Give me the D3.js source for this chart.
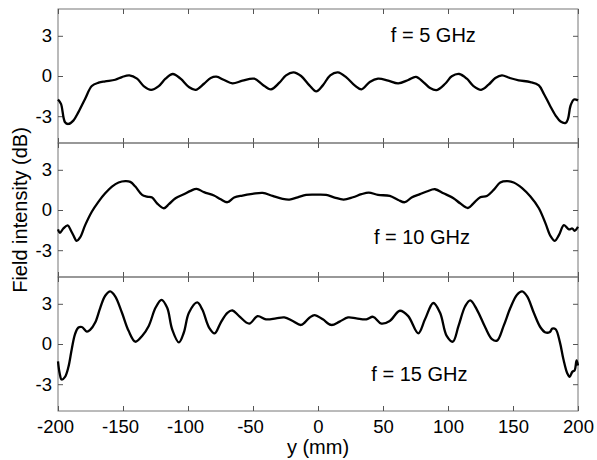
<!DOCTYPE html>
<html>
<head>
<meta charset="utf-8">
<script src="https://cdn.jsdelivr.net/npm/d3@7"></script>
<style>
  body { margin: 0; background: #fff; }
  text { font-family: "Liberation Sans", Arial, sans-serif; fill: #000; }
</style>
</head>
<body>
<div id="chart"></div>
<script>
// tick values / labels
const xTicks = [-200, -150, -100, -50, 0, 50, 100, 150, 200];
const yTicks = [-3, 0, 3];
const freqLabels = ["f = 5 GHz", "f = 10 GHz", "f = 15 GHz"];

// f = 5 GHz : position (mm) and field intensity (dB)
const y5 = [-200, -197.7, -194.6, -192, -188.2, -184.3, -179.1, -174, -168.8, -163.7, -156, -150.8, -145.1, -139.2, -134.1, -128.4, -122.5, -117.3, -111.7, -105.7, -99.3, -94.1, -87.7, -82.5, -78.2, -72.2, -65.8, -58.1, -49.1, -42.6, -36.2, -29.7, -24.6, -18.9, -13, -6.6, -1.4, 3.7, 9.4, 15.3, 21.8, 28.2, 33.4, 39.8, 46.2, 54, 61.7, 69.4, 75.3, 81, 86.2, 91.3, 97.8, 102.9, 108.6, 114.5, 119.6, 125.5, 131.2, 136.4, 141.5, 147.5, 154.4, 163.4, 169.9, 173.7, 178.4, 182.8, 186.6, 190.5, 192.3, 194.3, 196.9, 200];
const e5 = [-1.75, -2.08, -3.45, -3.58, -3.33, -2.7, -1.7, -0.75, -0.5, -0.4, -0.28, -0.08, 0.05, -0.2, -0.75, -1.03, -0.75, -0.2, 0.15, -0.2, -0.82, -1.03, -0.58, -0.15, -0.05, -0.3, -0.55, -0.35, -0.2, -0.65, -1.0, -0.5, 0.05, 0.27, 0, -0.7, -1.15, -0.7, 0.05, 0.27, -0.1, -0.7, -1.0, -0.45, -0.2, -0.35, -0.55, -0.3, -0.07, -0.45, -0.9, -1.05, -0.58, -0.02, 0.15, -0.2, -0.75, -1.03, -0.65, -0.15, 0.05, -0.15, -0.32, -0.45, -0.7, -1.32, -2.2, -2.95, -3.4, -3.5, -3.2, -2.2, -1.75, -1.82];

// f = 10 GHz
const y10 = [-200, -198.5, -195.9, -192.5, -190, -188.2, -185.6, -183, -179.1, -174, -168.8, -163.7, -158.5, -153.4, -148.2, -144.4, -140.5, -135.3, -131.5, -127.6, -123.8, -118.6, -114.7, -109.6, -103.2, -98, -93.4, -87.7, -80, -74.8, -69.7, -64.5, -58.1, -50.4, -42.6, -34.9, -27.2, -22, -15.6, -9.1, -1.4, 6.3, 12.8, 19.7, 26.9, 33.4, 39, 46.2, 55.2, 61.7, 66.8, 72, 78.4, 83.6, 90, 96.5, 104.2, 109.3, 115.3, 119.6, 124.8, 129.9, 135.1, 140.2, 145.4, 150.5, 157, 163.4, 169.9, 175, 178.9, 182.2, 185.3, 189.2, 193, 195.6, 197.4, 200];
const e10 = [-1.45, -1.7, -1.38, -1.15, -1.55, -1.88, -2.3, -2.05, -1.13, -0.13, 0.63, 1.25, 1.75, 2.05, 2.15, 2.1, 1.75, 1.13, 1.0, 0.93, 0.5, 0.13, 0.43, 0.88, 1.18, 1.43, 1.58, 1.33, 1.08, 0.8, 0.58, 0.93, 1.08, 1.2, 1.28, 1.05, 0.83, 0.78, 0.95, 1.13, 1.15, 1.13, 0.93, 0.78, 0.95, 1.18, 1.3, 1.13, 1.05, 0.75, 0.58, 0.93, 1.18, 1.38, 1.55, 1.25, 0.88, 0.5, 0.15, 0.5, 0.95, 1.05, 1.5, 2.05, 2.15, 2.05, 1.63, 1.0, 0.13, -1.0, -1.95, -2.3, -1.88, -1.13, -1.45, -1.38, -1.55, -1.25];

// f = 15 GHz
const y15 = [-200, -198.7, -197.2, -194.6, -192, -189.4, -186.9, -184.3, -181.7, -177.8, -175.3, -171.4, -167.5, -163.7, -159.8, -156, -150.8, -145.7, -140.5, -135.3, -130.2, -125, -120.4, -116, -112.2, -107, -103.2, -99.3, -92.9, -89, -83.8, -79.5, -74.8, -69.7, -65.8, -60.7, -52.9, -46.5, -40, -32.3, -25.9, -19.4, -13, -6.6, -2.7, 3.7, 10.2, 16.6, 23.1, 29.5, 37.2, 42.4, 48.8, 55.2, 63, 69.4, 77.1, 82.3, 88.7, 93.9, 99, 103.7, 108.1, 113.2, 117.1, 122.2, 128.7, 133.8, 137.7, 142.8, 148, 153.1, 157, 160.9, 166, 171.2, 175, 178.4, 180.2, 182.8, 186.1, 188.7, 191.8, 193.6, 195.6, 197.4, 198.9, 200];
const e15 = [-1.3, -2.2, -2.65, -2.45, -1.72, -0.37, 0.74, 1.23, 1.27, 0.93, 1.05, 1.6, 2.7, 3.6, 3.92, 3.55, 2.33, 0.98, 0.17, 0.6, 1.35, 2.7, 3.3, 2.7, 1.1, 0.12, 0.86, 2.33, 3.1, 2.57, 1.23, 0.8, 1.6, 2.33, 2.5, 2.08, 1.52, 2.08, 1.84, 1.91, 1.98, 1.72, 1.42, 1.96, 2.16, 1.84, 1.42, 1.67, 1.98, 1.91, 1.84, 2.03, 1.52, 1.72, 2.48, 2.08, 0.8, 1.84, 3.06, 2.33, 0.6, 0.17, 1.35, 2.82, 3.26, 2.57, 1.23, 0.37, 0.25, 1.35, 2.7, 3.68, 3.92, 3.55, 2.33, 1.23, 0.86, 0.9, 1.15, 1.1, 0.12, -1.1, -2.2, -2.45, -2.08, -1.96, -1.23, -1.6];

const panels = [
  { pos: y5, val: e5, label: freqLabels[0], lx: 56, ly: 2.55 },
  { pos: y10, val: e10, label: freqLabels[1], lx: 43, ly: -2.55 },
  { pos: y15, val: e15, label: freqLabels[2], lx: 41, ly: -2.75 }
];

const width = 597, height = 460;
const margin = { top: 9, right: 19, bottom: 49, left: 58 };
const plotW = width - margin.left - margin.right;
const panelH = (height - margin.top - margin.bottom) / panels.length;

const svg = d3.select("#chart").append("svg")
    .attr("width", width)
    .attr("height", height);

const x = d3.scaleLinear().domain([-200, 200]).range([0, plotW]);
const y = d3.scaleLinear().domain([-5, 5]).range([panelH, 0]);

// plain hyphen minus, as in the original figure
const plain = d => String(d);

const line = d3.line()
    .x(d => x(d[0]))
    .y(d => y(d[1]))
    .curve(d3.curveCatmullRom.alpha(0.5));

panels.forEach((p, i) => {
  const g = svg.append("g")
      .attr("transform", `translate(${margin.left},${margin.top + i * panelH})`);

  // frame
  g.append("rect")
      .attr("width", plotW)
      .attr("height", panelH)
      .attr("fill", "none")
      .attr("stroke", "#777")
      .attr("stroke-width", 1);

  const left = g.append("g")
      .call(d3.axisLeft(y).tickValues(yTicks).tickSizeInner(-5).tickSizeOuter(0).tickPadding(6).tickFormat(plain));
  const right = g.append("g")
      .attr("transform", `translate(${plotW},0)`)
      .call(d3.axisRight(y).tickValues(yTicks).tickSizeInner(-5).tickSizeOuter(0).tickFormat(""));
  const top = g.append("g")
      .call(d3.axisTop(x).tickValues(xTicks).tickSizeInner(-5).tickSizeOuter(0).tickFormat(""));
  const bottom = g.append("g")
      .attr("transform", `translate(0,${panelH})`)
      .call(d3.axisBottom(x).tickValues(xTicks).tickSizeInner(-5).tickSizeOuter(0).tickPadding(9)
        .tickFormat(i === panels.length - 1 ? plain : ""));

  [left, right, top, bottom].forEach(a => {
    a.select(".domain").remove();
    a.selectAll(".tick line").attr("stroke", "#555");
    a.selectAll("text").attr("font-size", 18.5).attr("font-family", "Liberation Sans, Arial, sans-serif");
  });
  bottom.selectAll(".tick text").attr("dx", d => d < 0 ? -3 : 0);

  g.append("path")
      .datum(d3.zip(p.pos, p.val))
      .attr("fill", "none")
      .attr("stroke", "#000")
      .attr("stroke-width", 2.3)
      .attr("stroke-linejoin", "round")
      .attr("d", line);

  g.append("text")
      .attr("x", x(p.lx))
      .attr("y", y(p.ly))
      .attr("font-size", 20)
      .text(p.label);
});

svg.append("text")
    .attr("x", margin.left + plotW / 2)
    .attr("y", 454)
    .attr("text-anchor", "middle")
    .attr("font-size", 20)
    .text("y (mm)");

svg.append("text")
    .attr("transform", `translate(27,${margin.top + panelH * 1.5}) rotate(-90)`)
    .attr("text-anchor", "middle")
    .attr("font-size", 20)
    .text("Field intensity (dB)");
</script>
</body>
</html>
